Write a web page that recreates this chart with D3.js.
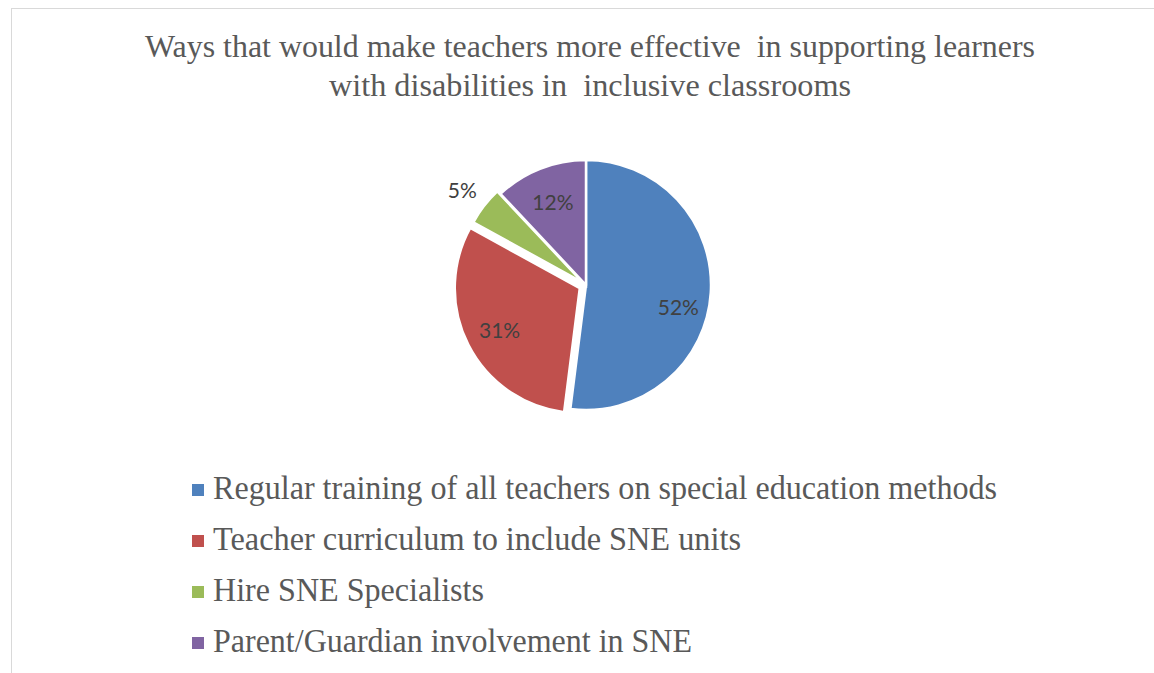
<!DOCTYPE html>
<html>
<head>
<meta charset="utf-8">
<script src="https://cdn.jsdelivr.net/npm/d3@7"></script>
<style>
  html, body { margin: 0; padding: 0; background: #ffffff; }
  svg { display: block; }
</style>
</head>
<body>
<svg id="chart" width="1154" height="673"></svg>
<script>
// Survey responses: ways to make teachers more effective with learners with disabilities
const categories = [
  "Regular training of all teachers on special education methods",
  "Teacher curriculum to include SNE units",
  "Hire SNE Specialists",
  "Parent/Guardian involvement in SNE"
];
const shares = [52, 31, 5, 12];
const sliceColors = ["#4F81BD", "#C0504D", "#9BBB59", "#8064A2"];
const titleLines = [
  "Ways that would make teachers more effective  in supporting learners",
  "with disabilities in  inclusive classrooms"
];

const W = 1154, H = 673;
const svg = d3.select("#chart");

// chart area frame
svg.append("rect")
  .attr("x", 11.5).attr("y", 8.5)
  .attr("width", W).attr("height", H)
  .attr("fill", "#ffffff")
  .attr("stroke", "#d9d9d9").attr("stroke-width", 1);

// title
const titleG = svg.append("g")
  .attr("font-family", "'Liberation Serif', 'Times New Roman', serif")
  .attr("font-size", 31)
  .attr("fill", "#595959")
  .attr("text-anchor", "middle");
const titleWidths = [890, 522];
titleLines.forEach((t, i) => {
  titleG.append("text")
    .attr("x", 590)
    .attr("y", 57 + i * 39)
    .attr("textLength", titleWidths[i])
    .attr("lengthAdjust", "spacingAndGlyphs")
    .style("white-space", "pre")
    .text(t);
});

// pie
const cx = 586, cy = 285, radius = 125;
const explode = [0, 7, 4, 0];          // outward offset per slice
const labelRadius = [0.74, 0.72, 1.22, 0.72];
const labelNudge = [[0, 16], [0, 0], [0, 0], [0, 0]];

const pie = d3.pie().sort(null).value(d => d);
const arcs = pie(shares);
const arc = d3.arc().innerRadius(0).outerRadius(radius);

const pieG = svg.append("g").attr("transform", `translate(${cx},${cy})`);

pieG.selectAll("path")
  .data(arcs)
  .join("path")
  .attr("d", arc)
  .attr("fill", (d, i) => sliceColors[i])
  .attr("stroke", "#ffffff")
  .attr("stroke-width", 2.5)
  .attr("stroke-linejoin", "miter")
  .attr("transform", (d, i) => {
    const a = (d.startAngle + d.endAngle) / 2;
    return `translate(${Math.sin(a) * explode[i]},${-Math.cos(a) * explode[i]})`;
  });

pieG.selectAll("text")
  .data(arcs)
  .join("text")
  .attr("font-family", "Lato, 'Open Sans', sans-serif")
  .attr("font-size", 21)
  .attr("fill", "#404040")
  .attr("text-anchor", "middle")
  .attr("dominant-baseline", "central")
  .attr("x", (d, i) => {
    const a = (d.startAngle + d.endAngle) / 2;
    return Math.sin(a) * (radius * labelRadius[i] + explode[i]) + labelNudge[i][0];
  })
  .attr("y", (d, i) => {
    const a = (d.startAngle + d.endAngle) / 2;
    return -Math.cos(a) * (radius * labelRadius[i] + explode[i]) + labelNudge[i][1];
  })
  .text(d => d.data + "%");

// legend
const legendY = d3.scalePoint().domain(d3.range(categories.length)).range([499, 652]);
const legendWidths = [784, 528, 271, 479];
const legendG = svg.append("g")
  .attr("font-family", "'Liberation Serif', 'Times New Roman', serif")
  .attr("font-size", 33)
  .attr("fill", "#595959");

categories.forEach((c, i) => {
  const y = legendY(i);
  legendG.append("rect")
    .attr("x", 192).attr("y", y - 15)
    .attr("width", 12).attr("height", 12)
    .attr("fill", sliceColors[i]);
  legendG.append("text")
    .attr("x", 213).attr("y", y)
    .attr("textLength", legendWidths[i])
    .attr("lengthAdjust", "spacingAndGlyphs")
    .text(c);
});
</script>
</body>
</html>
